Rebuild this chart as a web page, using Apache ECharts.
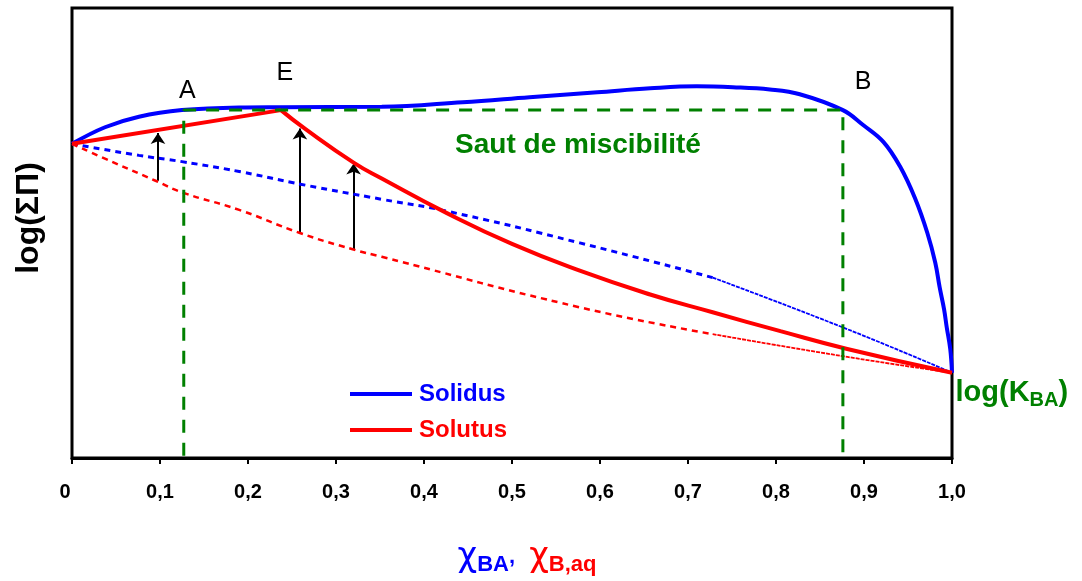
<!DOCTYPE html>
<html>
<head>
<meta charset="utf-8">
<script src="https://cdn.jsdelivr.net/npm/echarts@6/dist/echarts.min.js"></script>
<style>
html,body{margin:0;padding:0;background:#fff;}
#chart{width:1082px;height:581px;}
</style>
</head>
<body>
<div id="chart"></div>
<script>
// ---- data (x: mole fraction, y: arbitrary log(ΣΠ) units, 0..100) ----
const tickLabels = ['0','0,1','0,2','0,3','0,4','0,5','0,6','0,7','0,8','0,9','1,0'];

const solidus = [
  [0,69.82],[0.0375,73.5],[0.0761,75.84],[0.125,77.31],[0.19,77.91],[0.236,77.97],
  [0.352,78.04],[0.444,79.07],[0.52,80.18],[0.597,81.28],[0.657,82.16],[0.71,82.6],
  [0.751,82.4],[0.793,81.9],[0.827,80.84],[0.876,77.31],[0.899,74.01],[0.922,70.26],
  [0.941,64.76],[0.958,57.71],[0.972,50.0],[0.981,43.39],[0.986,37.89],[0.991,33.04],
  [0.994,29.07],[0.998,24.23],[1.0,18.94]
];
const solutusLinear = [[0,69.82],[0.2375,77.31]];
const solutusCurve = [
  [0.2375,77.31],[0.265,73.13],[0.32,65.64],[0.352,62.11],[0.426,54.41],[0.5,47.58],
  [0.577,41.63],[0.657,36.34],[0.728,32.38],[0.805,28.19],[0.881,24.23],[1.0,18.94]
];
const solidusIdeal = [
  [0,69.82],[0.0761,67.25],[0.125,65.86],[0.19,63.66],[0.265,60.64],[0.352,57.49],
  [0.426,54.85],[0.577,47.8],[0.728,40.09]
];
const solidusIdealTail = [[0.728,40.09],[0.881,28.63],[1.0,18.94]];
const solutusIdeal = [
  [0,69.82],[0.0375,66.52],[0.0943,61.67],[0.125,59.03],[0.19,55.13],[0.259,50.0],
  [0.32,46.32],[0.352,44.71],[0.577,33.48],[0.728,27.53]
];
const solutusIdealTail = [[0.728,27.53],[0.881,22.47],[1.0,18.94]];
const gapBox = [[0.127,0.5],[0.127,77.31],[0.876,77.31],[0.876,0.5]];
const arrowX = [0.0977, 0.259, 0.32];
const arrowFrom = [61.61, 50.0, 46.26];
const arrowTo = [72.25, 73.24, 65.42];
const annotations = [
  {pos:[0.131,81.5], text:'A'},
  {pos:[0.242,85.5], text:'E'},
  {pos:[0.899,83.5], text:'B'}
];

const FONT = 'Liberation Sans, Arial, sans-serif';
const GREEN = '#008000';

const chart = echarts.init(document.getElementById('chart'));
const arrowData = arrowX.map((x,i)=>({coords:[[x,arrowFrom[i]],[x,arrowTo[i]]]}));

const annotData = annotations.map(a=>({value:a.pos, label:{show:true, formatter:a.text, fontFamily:FONT, fontSize:25, color:'#000'}}));
annotData.push({value:[0.575,69.4], label:{show:true, formatter:'Saut de miscibilité', fontFamily:FONT, fontSize:28, fontWeight:'bold', color:GREEN}});
annotData.push({value:[1.004,14.4], label:{show:true, align:'left',
  formatter:'{m|log(K}{s|BA}{m|)}',
  rich:{
    m:{fontFamily:FONT, fontSize:29, fontWeight:'bold', color:GREEN},
    s:{fontFamily:FONT, fontSize:20, fontWeight:'bold', color:GREEN, padding:[14,0,0,0]}
  }}});

chart.setOption({
  animation:false,
  backgroundColor:'#fff',
  grid:{left:72, right:130, top:8, bottom:120, show:true, borderColor:'#000', borderWidth:3, backgroundColor:'#fff'},
  legend:{
    orient:'vertical', left:345, top:376, icon:'rect', itemWidth:62, itemHeight:4, itemGap:10,
    textStyle:{fontFamily:FONT, fontSize:24, fontWeight:'bold', lineHeight:26, padding:[0,0,0,2]},
    data:[{name:'Solidus', textStyle:{color:'#0000ff'}},{name:'Solutus', textStyle:{color:'#ff0000'}}]
  },
  graphic:[{
    type:'text', x:29, y:218, rotation:Math.PI/2,
    style:{text:'log(ΣΠ)', font:'bold 32px Liberation Sans, Arial, sans-serif', fill:'#000', align:'center', verticalAlign:'middle'}
  }],
  xAxis:{
    type:'value', min:0, max:1, interval:0.1,
    axisLine:{show:true, lineStyle:{color:'#000', width:3}},
    axisTick:{show:true, length:6, lineStyle:{color:'#000', width:2}},
    splitLine:{show:false},
    axisLabel:{margin:24, fontFamily:FONT, fontSize:20, fontWeight:'bold', color:'#000',
      formatter:(v)=>{const i=Math.round(v*10); return i===0 ? '{z|'+tickLabels[i]+'}' : tickLabels[i];},
      rich:{z:{fontFamily:FONT, fontSize:20, fontWeight:'bold', color:'#000', padding:[0,14,0,0]}}},
    name:'{cb|χ}{sb|BA}{cm|, }{cr|χ}{sr|B,aq}',
    nameLocation:'middle', nameGap:80,
    nameTextStyle:{
      padding:[0,0,0,30],
      rich:{
        cb:{fontFamily:'DejaVu Sans', fontSize:34, color:'#0000ff'},
        sb:{fontFamily:FONT, fontSize:22, fontWeight:'bold', color:'#0000ff', padding:[16,0,0,0]},
        cm:{fontFamily:FONT, fontSize:22, fontWeight:'bold', color:'#0000ff', padding:[0,8,0,0]},
        cr:{fontFamily:'DejaVu Sans', fontSize:34, color:'#ff0000'},
        sr:{fontFamily:FONT, fontSize:22, fontWeight:'bold', color:'#ff0000', padding:[16,0,0,0]}
      }
    }
  },
  yAxis:{
    type:'value', min:0, max:100,
    axisLine:{show:false}, axisTick:{show:false}, axisLabel:{show:false}, splitLine:{show:false}
  },
  series:[
    {type:'line', name:'idealSolidus', data:solidusIdeal, smooth:0.5, showSymbol:false, symbol:'none',
      lineStyle:{color:'#0000ff', width:3, type:[6,5]}},
    {type:'line', name:'idealSolidusTail', data:solidusIdealTail, smooth:0.5, showSymbol:false, symbol:'none',
      lineStyle:{color:'#0000ff', width:1.8, type:[4,1]}},
    {type:'line', name:'idealSolutus', data:solutusIdeal, smooth:0.5, showSymbol:false, symbol:'none',
      lineStyle:{color:'#ff0000', width:2.5, type:[6,5]}},
    {type:'line', name:'idealSolutusTail', data:solutusIdealTail, smooth:0.5, showSymbol:false, symbol:'none',
      lineStyle:{color:'#ff0000', width:1.8, type:[4,1]}},
    {type:'line', name:'Solidus', data:solidus, smooth:0.4, showSymbol:false, symbol:'none', color:'#0000ff',
      lineStyle:{color:'#0000ff', width:4}},
    {type:'line', name:'Solutus', data:solutusLinear, showSymbol:false, symbol:'none', color:'#ff0000',
      lineStyle:{color:'#ff0000', width:4}},
    {type:'line', name:'Solutus', data:solutusCurve, smooth:0.5, showSymbol:false, symbol:'none', color:'#ff0000',
      lineStyle:{color:'#ff0000', width:4}},
    {type:'lines', coordinateSystem:'cartesian2d', data:arrowData, symbol:['none','arrow'], symbolSize:11,
      lineStyle:{color:'#000', width:2, opacity:1, curveness:0}},
    {type:'line', name:'gap', data:gapBox, showSymbol:false, symbol:'none',
      lineStyle:{color:GREEN, width:3, type:[13,10]}},
    {type:'scatter', name:'annot', data:annotData, symbolSize:0, clip:false, silent:true,
      itemStyle:{opacity:1}, label:{show:true, position:'inside', opacity:1}}
  ]
});
</script>
</body>
</html>
